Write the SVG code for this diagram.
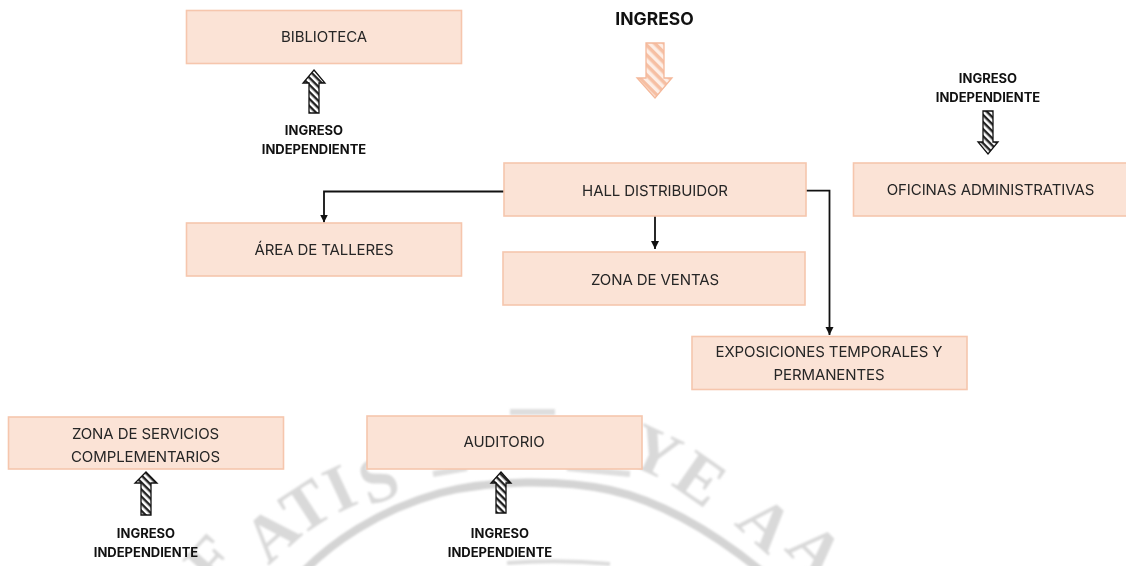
<svg xmlns="http://www.w3.org/2000/svg" width="1126" height="566" viewBox="0 0 1126 566">
<style>
.box{fill:#fbe3d6;stroke:#f6c6ad;stroke-width:1.6}
.t{font-family:"Inter","Liberation Sans",sans-serif;font-size:15px;fill:#262626;text-anchor:middle;letter-spacing:-.1px}
.b{font-family:"Inter","Liberation Sans",sans-serif;font-size:13px;font-weight:700;fill:#111;text-anchor:middle}
.w{font-family:"Liberation Serif",serif;font-size:66px;font-weight:700;fill:#d9d9d9;text-anchor:middle}
.c{fill:none;stroke:#111;stroke-width:1.8;marker-end:url(#ah)}
.ak{fill:url(#hk);stroke:#111;stroke-width:1.3}
.ao{fill:url(#ho);stroke:#f4b89a;stroke-width:1.3}
</style>
<defs>
<marker id="ah" markerUnits="userSpaceOnUse" markerWidth="9" markerHeight="9" refX="8" refY="4" orient="auto"><path d="M0 0L8 4L0 8z" fill="#111"/></marker>
<pattern id="hk" patternUnits="userSpaceOnUse" width="5" height="5" patternTransform="rotate(45)"><rect width="5" height="5" fill="#fff"/><rect width="5" height="2.4" fill="#222"/></pattern>
<pattern id="ho" patternUnits="userSpaceOnUse" width="7" height="7" patternTransform="rotate(45)"><rect width="7" height="7" fill="#fdeee6"/><rect width="7" height="3.5" fill="#f6bfa3"/></pattern>
<filter id="soft" x="-5%" y="-5%" width="110%" height="110%"><feGaussianBlur stdDeviation="1"/></filter>
</defs>
<rect width="1126" height="566" fill="#fff"/>
<g id="watermark" filter="url(#soft)">
<path d="M305 570C330 545 375 511 440 493C490 480 560 479 610 490C660 501 710 530 760 570" fill="none" stroke="#d4d4d4" stroke-width="8"/>
<path d="M507 563Q560 559 610 564" fill="none" stroke="#dcdcdc" stroke-width="4"/>
<text class="w" transform="translate(227 575) rotate(-48)">F</text>
<text class="w" transform="translate(286 550) rotate(-42)">A</text>
<text class="w" transform="translate(318 525) rotate(-33)">T</text>
<text class="w" transform="translate(349 508) rotate(-25)">I</text>
<text class="w" transform="translate(386 500) rotate(-20)">S</text>
<text class="w" transform="translate(646 472) rotate(25)">Y</text>
<text class="w" transform="translate(688 497) rotate(35)">E</text>
<text class="w" transform="translate(751 540) rotate(42)">A</text>
<text class="w" transform="translate(800 566) rotate(45)">A</text>
<path d="M433 474L467 468M567 468L630 474M510 412H555" fill="none" stroke="#dedede" stroke-width="6"/>
</g>
<g id="connectors">
<path class="c" d="M504 191.500H324V222.500"/>
<path class="c" d="M655 216V249"/>
<path class="c" d="M806 190.700H829.500V335"/>
</g>
<g id="biblioteca"><rect class="box" x="186.500" y="10.500" width="275" height="53"/><text class="t" x="324" y="42">BIBLIOTECA</text></g>
<g id="talleres"><rect class="box" x="186.500" y="223" width="275" height="53"/><text class="t" x="324" y="255">ÁREA DE TALLERES</text></g>
<g id="hall"><rect class="box" x="504" y="163" width="302" height="53"/><text class="t" x="655" y="196">HALL DISTRIBUIDOR</text></g>
<g id="ventas"><rect class="box" x="503" y="252" width="302" height="53"/><text class="t" x="655" y="285">ZONA DE VENTAS</text></g>
<g id="oficinas"><rect class="box" x="853.500" y="163" width="274" height="53"/><text class="t" x="990.500" y="195">OFICINAS ADMINISTRATIVAS</text></g>
<g id="exposiciones"><rect class="box" x="692" y="336.500" width="275" height="53"/><text class="t" x="829" y="357">EXPOSICIONES TEMPORALES Y</text><text class="t" x="829" y="380">PERMANENTES</text></g>
<g id="servicios"><rect class="box" x="8.500" y="417" width="275" height="52"/><text class="t" x="145.500" y="439">ZONA DE SERVICIOS</text><text class="t" x="145.500" y="462">COMPLEMENTARIOS</text></g>
<g id="auditorio"><rect class="box" x="367" y="416" width="275" height="53"/><text class="t" x="504" y="447">AUDITORIO</text></g>
<g id="ingreso-principal"><text class="b" style="font-size:17.5px" x="654.500" y="25">INGRESO</text><path class="ao" d="M646 43H664V78H672L655 98L637 78H646z"/></g>
<g id="ingreso-biblioteca"><path class="ak" d="M314 70L325 83H319V113H309V83H303z"/><text class="b" x="314" y="135">INGRESO</text><text class="b" x="314" y="154">INDEPENDIENTE</text></g>
<g id="ingreso-oficinas"><path class="ak" d="M983 111H993V142H998L988 154L978 142H983z"/><text class="b" x="988" y="83">INGRESO</text><text class="b" x="988" y="102">INDEPENDIENTE</text></g>
<g id="ingreso-servicios"><path class="ak" d="M146 472L157 483H151V515H141V483H135z"/><text class="b" x="146" y="538">INGRESO</text><text class="b" x="146" y="557">INDEPENDIENTE</text></g>
<g id="ingreso-auditorio"><path class="ak" d="M501 472L511 483H506V513H496V483H491z"/><text class="b" x="500" y="538">INGRESO</text><text class="b" x="500" y="557">INDEPENDIENTE</text></g>
</svg>
